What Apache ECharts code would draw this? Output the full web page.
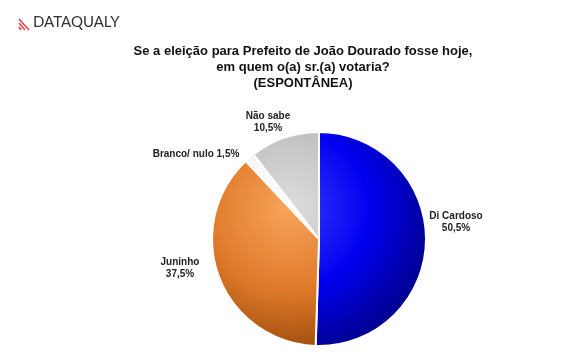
<!DOCTYPE html>
<html><head><meta charset="utf-8">
<script src="https://cdn.jsdelivr.net/npm/echarts@6/dist/echarts.min.js"></script>
<style>html,body{margin:0;padding:0;background:#fff}#c{width:570px;height:358px}</style>
</head><body><div id="c"></div>
<script>
const categories = ['Di Cardoso', 'Juninho', 'Branco/ nulo', 'Não sabe'];
const values = [50.5, 37.5, 1.5, 10.5];
const titleLines = ['Se a eleição para Prefeito de João Dourado fosse hoje,', 'em quem o(a) sr.(a) votaria?', '(ESPONTÂNEA)'];

const cx = 319, cy = 239, R = 107;
function grad(inner, mid, outer) {
  return { type: 'radial', x: cx - 30, y: cy - 30, r: R + 40, global: true,
    colorStops: [{offset: 0, color: inner}, {offset: 0.55, color: mid}, {offset: 1, color: outer}] };
}
const colors = [grad('#3a3aff', '#0000f0', '#000090'), grad('#f7a45a', '#e07a2a', '#9c4a0c'), grad('#ffffff', '#f2f2f2', '#cfcfcf'), grad('#dedede', '#c0c0c0', '#8f8f8f')];
const fmt = v => v.toFixed(1).replace('.', ',') + '%';

const chart = echarts.init(document.getElementById('c'));
chart.setOption({
  animation: false,
  title: {
    text: titleLines.join('\n'), left: 298, top: 38, textAlign: 'center',
    textStyle: { fontFamily: 'Liberation Sans, Arial', fontSize: 13, fontWeight: 'bold', color: '#111', lineHeight: 16 }
  },
  graphic: [
    { type: 'line', shape: { x1: 19, y1: 19, x2: 29, y2: 30 }, style: { stroke: '#e0474c', lineWidth: 1.6 } },
    { type: 'line', shape: { x1: 19, y1: 23, x2: 25, y2: 30 }, style: { stroke: '#e0474c', lineWidth: 1.6 } },
    { type: 'line', shape: { x1: 19, y1: 27, x2: 21, y2: 30 }, style: { stroke: '#e0474c', lineWidth: 1.6 } },
    { type: 'text', left: 33, top: 15, style: { text: 'DATAQUALY', font: '15px Lato, Liberation Sans', fill: '#333' } }
  ],
  series: [{
    type: 'pie', center: [cx, cy], radius: R, startAngle: 90, clockwise: true,
    label: {
      show: true, position: 'outside', fontFamily: 'Liberation Sans, Arial', fontSize: 10, fontWeight: 'bold', color: '#222',
      align: 'center', lineHeight: 12,
      formatter: p => p.name === 'Branco/ nulo' ? p.name + ' ' + fmt(p.value) : p.name + '\n' + fmt(p.value)
    },
    labelLine: { show: false, length: 10, length2: 10 },
    labelLayout: function (p) {
      const pos = { 'Di Cardoso': [456, 222], 'Juninho': [180, 268], 'Branco/ nulo': [196, 154], 'Não sabe': [268, 122] }[categories[p.dataIndex]];
      return { x: pos[0], y: pos[1], align: 'center', verticalAlign: 'middle' };
    },
    itemStyle: { borderColor: '#fff', borderWidth: 2 },
    data: categories.map((n, i) => ({ name: n, value: values[i], itemStyle: { color: colors[i] } }))
  }]
});
</script></body></html>
